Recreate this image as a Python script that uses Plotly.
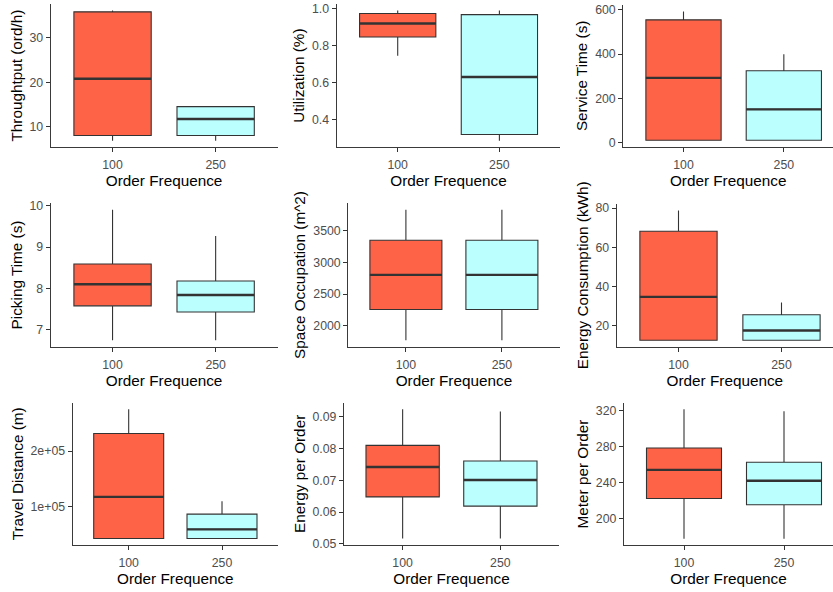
import plotly.graph_objects as go

# Order frequency groups shown on every x axis
order_freq = ["100", "250"]

y_titles = [
    "Throughtput (ord/h)", "Utilization (%)", "Service Time (s)",
    "Picking Time (s)", "Space Occupation (m^2)", "Energy Consumption (kWh)",
    "Travel Distance (m)", "Energy per Order", "Meter per Order",
]

# Box statistics, one value per metric (same order as y_titles)
low_100 = [6.8, 0.746, 11.5, 6.75, 1773, 12.4, 41700, 0.0517, 177.8]
q1_100 = [8.0, 0.848, 11.5, 7.58, 2257, 12.4, 41700, 0.0648, 222.5]
med_100 = [20.8, 0.921, 292.7, 8.10, 2805, 34.6, 117200, 0.0742, 254.2]
q3_100 = [35.9, 0.975, 554, 8.59, 3352, 68.2, 231900, 0.0810, 278.5]
high_100 = [36.2, 0.991, 592, 9.90, 3833, 78.8, 276100, 0.0924, 321.5]

low_250 = [6.8, 0.287, 11.5, 6.75, 1773, 12.4, 41700, 0.0517, 177.8]
q1_250 = [8.0, 0.321, 11.5, 7.43, 2257, 12.4, 41700, 0.0619, 215.6]
med_250 = [11.7, 0.632, 150.8, 7.84, 2805, 17.4, 58300, 0.0701, 242.2]
q3_250 = [14.5, 0.969, 325, 8.18, 3352, 25.4, 85900, 0.0761, 262.6]
high_250 = [14.5, 0.991, 399, 9.27, 3833, 31.7, 109200, 0.0917, 319.3]

# Y tick positions and labels per panel
y_tickvals = [
    [10, 20, 30],
    [0.4, 0.6, 0.8, 1.0],
    [0, 200, 400, 600],
    [7, 8, 9, 10],
    [2000, 2500, 3000, 3500],
    [20, 40, 60, 80],
    [100000, 200000],
    [0.05, 0.06, 0.07, 0.08, 0.09],
    [200, 240, 280, 320],
]
y_ticktext = [
    ["10", "20", "30"],
    ["0.4", "0.6", "0.8", "1.0"],
    ["0", "200", "400", "600"],
    ["7", "8", "9", "10"],
    ["2000", "2500", "3000", "3500"],
    ["20", "40", "60", "80"],
    ["1e+05", "2e+05"],
    ["0.05", "0.06", "0.07", "0.08", "0.09"],
    ["200", "240", "280", "320"],
]

W, H = 833, 592
# Panel plot areas in pixels: (left, right, top, bottom), plus right end of x range
panels = [
    (50.7, 277.5, 4.0, 147.3, 1.6),
    (336.7, 560.4, 4.0, 147.3, 1.6),
    (623.3, 833.0, 5.0, 146.7, 1.49),
    (50.7, 277.5, 203.3, 346.7, 1.6),
    (348.3, 559.5, 203.3, 346.7, 1.6),
    (616.7, 833.0, 204.0, 346.7, 1.5),
    (72.7, 278.0, 402.7, 545.0, 1.6),
    (344.0, 559.0, 402.7, 545.0, 1.6),
    (624.0, 833.0, 402.7, 545.3, 1.49),
]

FILL = {"100": "#FF6347", "250": "#BBFFFF"}
EDGE = "#333333"
FONT = "Liberation Sans, Arial, sans-serif"
BOX_W = 0.75

fig = go.Figure()
layout = {}

for i in range(9):
    n = i + 1
    xref = "x" if n == 1 else f"x{n}"
    yref = "y" if n == 1 else f"y{n}"
    groups = [
        (0, "100", low_100[i], q1_100[i], med_100[i], q3_100[i], high_100[i]),
        (1, "250", low_250[i], q1_250[i], med_250[i], q3_250[i], high_250[i]),
    ]
    for pos, name, lo, q1, md, q3, hi in groups:
        fig.add_trace(go.Box(
            x=[pos], q1=[q1], median=[md], q3=[q3],
            lowerfence=[lo], upperfence=[hi],
            width=BOX_W, whiskerwidth=0, boxpoints=False,
            fillcolor=FILL[name], line=dict(color=EDGE, width=1.1),
            xaxis=xref, yaxis=yref, hoverinfo="skip", showlegend=False,
        ))
        # thicker median bar
        fig.add_trace(go.Scatter(
            x=[pos - BOX_W / 2, pos + BOX_W / 2], y=[md, md],
            mode="lines", line=dict(color=EDGE, width=2.4),
            xaxis=xref, yaxis=yref, hoverinfo="skip", showlegend=False,
        ))

    lo_all = min(low_100[i], low_250[i])
    hi_all = max(high_100[i], high_250[i])
    pad = 0.05 * (hi_all - lo_all)

    left, right, top, bottom, xr = panels[i]
    axis_common = dict(
        showgrid=False, zeroline=False, showline=True,
        linecolor="#3a3a3a", linewidth=1.3,
        ticks="outside", ticklen=4, tickwidth=1, tickcolor="#333333",
        tickfont=dict(family=FONT, size=12.3, color="#4D4D4D"),
        automargin=False,
    )
    layout["xaxis" if n == 1 else f"xaxis{n}"] = dict(
        axis_common,
        domain=[left / W, right / W],
        anchor=yref,
        range=[-0.6, xr],
        tickmode="array", tickvals=[0, 1], ticktext=order_freq,
        ticklabelstandoff=2,
        title=dict(text="Order Frequence", standoff=3,
                   font=dict(family=FONT, size=15.3, color="#000000")),
    )
    layout["yaxis" if n == 1 else f"yaxis{n}"] = dict(
        axis_common,
        domain=[1 - bottom / H, 1 - top / H],
        anchor=xref,
        range=[lo_all - pad, hi_all + pad],
        tickmode="array", tickvals=y_tickvals[i], ticktext=y_ticktext[i],
        title=dict(text=y_titles[i], standoff=3,
                   font=dict(family=FONT, size=15.3, color="#000000")),
    )

fig.update_layout(
    width=W, height=H,
    margin=dict(l=0, r=0, t=0, b=0),
    paper_bgcolor="white", plot_bgcolor="white",
    boxmode="overlay", showlegend=False,
    font=dict(family=FONT),
    **layout,
)

fig.write_html("out.html")
